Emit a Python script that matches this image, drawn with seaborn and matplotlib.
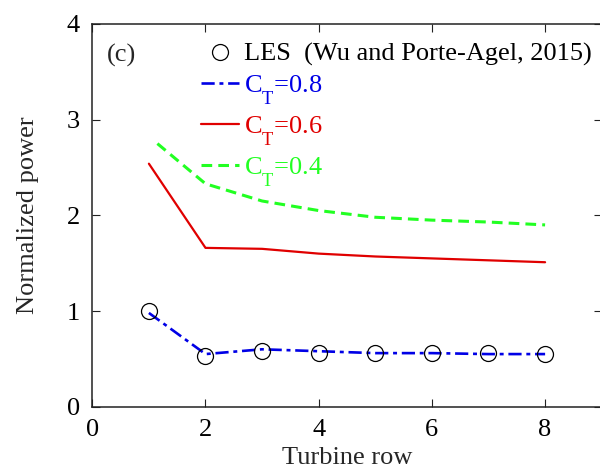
import matplotlib
matplotlib.use("Agg")
import matplotlib.pyplot as plt
import matplotlib._mathtext as _mt
import seaborn as sns
import pandas as pd

# ---- data ----
rows = [1, 2, 3, 4, 5, 6, 7, 8]
les_power = [1.00, 0.53, 0.58, 0.56, 0.56, 0.56, 0.56, 0.55]
ct08_power = [0.98, 0.55, 0.60, 0.58, 0.56, 0.56, 0.55, 0.55]
ct06_power = [2.54, 1.66, 1.65, 1.60, 1.57, 1.55, 1.53, 1.51]
ct04_rows = [1.15, 2, 3, 4, 5, 6, 7, 8]
ct04_power = [2.75, 2.33, 2.15, 2.05, 1.98, 1.95, 1.93, 1.90]

xticks = [0, 2, 4, 6, 8]
yticks = [0, 1, 2, 3, 4]
labels = ["LES  (Wu and Porte-Agel, 2015)",
          r"C$_\mathregular{T}$=0.8", r"C$_\mathregular{T}$=0.6", r"C$_\mathregular{T}$=0.4"]

sns.set_style("ticks")
plt.rcParams["font.family"] = ["Liberation Serif", "DejaVu Serif"]
plt.rcParams["mathtext.fontset"] = "custom"
plt.rcParams["mathtext.rm"] = "Liberation Serif"
plt.rcParams["mathtext.it"] = "Liberation Serif:italic"
plt.rcParams["font.size"] = 19
# deeper subscript, as in the reference
_mt.FontConstantsBase.sub1 = 1.05

FS = 19
BLUE = "#0000e6"
RED = "#e00000"
GREEN = "#22ff22"

fig = plt.figure(figsize=(6.0, 4.68), dpi=100)
ax = fig.add_axes([92.3 / 600, 1 - 406.7 / 468, 509.4 / 600, 382.7 / 468])

df08 = pd.DataFrame({"x": rows, "y": ct08_power})
df06 = pd.DataFrame({"x": rows, "y": ct06_power})
df04 = pd.DataFrame({"x": ct04_rows, "y": ct04_power})
dfles = pd.DataFrame({"x": rows, "y": les_power})

sns.lineplot(data=df04, x="x", y="y", ax=ax, color=GREEN, lw=2.2,
             linestyle=(0, (3.5, 2.0)), label=labels[3])
sns.lineplot(data=df06, x="x", y="y", ax=ax, color=RED, lw=1.6,
             linestyle="-", label=labels[2])
sns.lineplot(data=df08, x="x", y="y", ax=ax, color=BLUE, lw=1.9,
             linestyle=(0, (5, 1.8, 1.5, 1.8)), label=labels[1])
sns.lineplot(data=dfles, x="x", y="y", ax=ax, color="k", linestyle="",
             marker="o", markersize=11.5, markerfacecolor="none",
             markeredgecolor="k", markeredgewidth=0.9, label=labels[0])

handles, labs = ax.get_legend_handles_labels()
order = [labs.index(l) for l in labels]
leg = ax.legend([handles[i] for i in order], [labs[i] for i in order],
                loc="upper left", bbox_to_anchor=(0.213, 0.952),
                frameon=False, borderpad=0, borderaxespad=0,
                handlelength=1.45, handletextpad=0.18, labelspacing=0.28,
                fontsize=FS)
for txt, col in zip(leg.get_texts(), ["k", BLUE, RED, GREEN]):
    txt.set_color(col)

ax.set_xlim(0, 9)
ax.set_ylim(0, 4)
ax.set_xticks(xticks)
ax.set_yticks(yticks)
ax.set_xticklabels([str(t) for t in xticks])
ax.set_yticklabels([str(t) for t in yticks])
ax.tick_params(direction="in", length=5.5, width=0.8, top=True, right=True,
               labelsize=FS, colors="#222222", labelcolor="k")
ax.tick_params(axis="x", pad=9)
ax.tick_params(axis="y", pad=9)
for s in ax.spines.values():
    s.set_linewidth(1.1)
    s.set_color("#222222")

ax.set_xlabel("Turbine row", fontsize=FS, labelpad=4)
ax.set_ylabel("Normalized power", fontsize=FS, labelpad=20)
ax.text(0.028, 0.918, "(c)", transform=ax.transAxes, fontsize=FS,
        ha="left", va="center")

fig.savefig("out.png", dpi=100)
